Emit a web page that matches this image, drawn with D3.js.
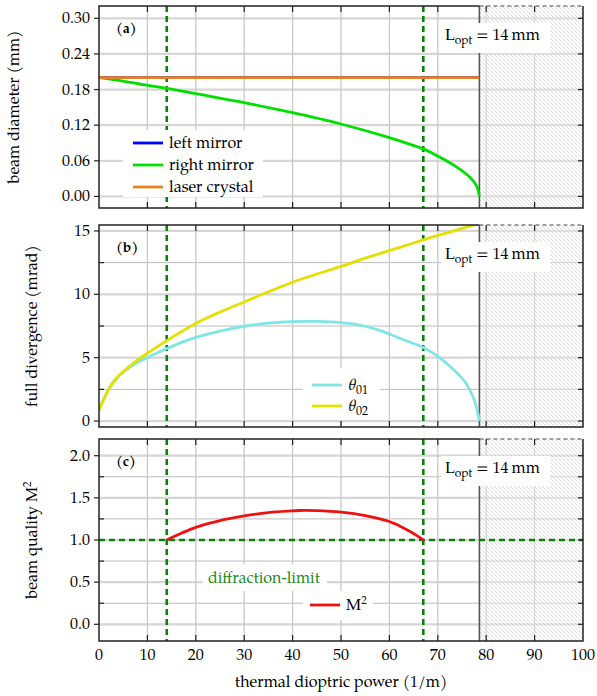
<!DOCTYPE html>
<html>
<head>
<meta charset="utf-8">
<script src="https://cdn.jsdelivr.net/npm/d3@7"></script>
<style>
  body { margin: 0; background: #fff; }
</style>
</head>
<body>
<script>
// ---- data ----
const powerTicks = [0, 10, 20, 30, 40, 50, 60, 70, 80, 90, 100];
const stabilityEdge = 78.6;          // end of stable range (1/m)
const markerPowers = [14, 67];       // green dashed lines

// (a) beam diameter (mm)
const mirrorX      = [0, 78.6];
const leftMirror   = [0.200, 0.200];
const laserCrystal = [0.200, 0.200];
const rightX      = [0, 5, 10, 14, 20, 30, 40, 50, 60, 67, 70, 74, 76, 77, 78, 78.6];
const rightMirror = [0.200, 0.194, 0.187, 0.182, 0.173, 0.158, 0.141, 0.122, 0.099, 0.080, 0.068, 0.049, 0.037, 0.029, 0.018, 0.0];

// (b) full divergence (mrad)
const theta01X = [0, 1.2, 2.2, 3.2, 5.3, 7.4, 10, 14, 20, 25, 30, 35, 40, 45, 50, 55, 58, 62, 67, 70, 73, 75.6, 77.3, 78.3, 78.6];
const theta01  = [0.85, 1.9, 2.62, 3.18, 3.95, 4.5, 5.0, 5.72, 6.6, 7.1, 7.48, 7.72, 7.85, 7.86, 7.76, 7.48, 7.15, 6.55, 5.8, 5.1, 4.15, 3.1, 1.9, 0.6, 0.0];
const theta02X = [0, 1.2, 2.2, 3.2, 5.3, 7.4, 10, 14, 20, 25, 30, 35, 40, 45, 50, 55, 60, 65, 70, 75, 78.6];
const theta02  = [0.85, 1.9, 2.64, 3.2, 4.0, 4.65, 5.35, 6.35, 7.7, 8.6, 9.4, 10.2, 10.95, 11.6, 12.2, 12.85, 13.45, 14.05, 14.65, 15.2, 15.6];

// (c) beam quality M²
const m2X = [14, 17, 20, 25, 30, 35, 40, 41.5, 45, 50, 55, 60, 62, 64, 66, 67];
const m2  = [1.0, 1.08, 1.15, 1.23, 1.285, 1.325, 1.345, 1.35, 1.348, 1.33, 1.29, 1.22, 1.17, 1.11, 1.04, 1.0];
const diffractionLimit = 1.0;

const ticksA = [0, 0.06, 0.12, 0.18, 0.24, 0.30];
const ticksB = [0, 5, 10, 15];
const minorB = [2.5, 7.5, 12.5];
const ticksC = [0, 0.5, 1.0, 1.5, 2.0];
const minorC = [0.25, 0.75, 1.25, 1.75];

// ---- layout ----
const W = 597, H = 696;
const left = 99, right = 583;
const FONT = '"TeX Gyre Pagella", "Liberation Serif", serif';
const svg = d3.select('body').append('svg').attr('width', W).attr('height', H)
  .style('font-family', FONT);

const x = d3.scaleLinear().domain([0, 100]).range([left, right]);
const zip = (xs, ys) => xs.map((v, i) => ({x: v, y: ys[i]}));

const defs = svg.append('defs');
const hatch = defs.append('pattern').attr('id', 'hatch')
  .attr('patternUnits', 'userSpaceOnUse').attr('width', 4).attr('height', 4);
hatch.append('path').attr('d', 'M-1,-1 L1,1 M0,0 L4,4 M3,3 L5,5')
  .attr('stroke', '#d0d0d0').attr('stroke-width', 0.6);

const green = '#0b800b';

function txt(sel) {
  return sel.style('font-family', FONT);
}

function drawPanel(p) {
  const y = d3.scaleLinear().domain(p.yDomain).range([p.bottom, p.top]);
  const g = svg.append('g');
  const clipId = 'clip-' + p.tag;
  defs.append('clipPath').attr('id', clipId).append('rect')
    .attr('x', left).attr('y', p.top).attr('width', right - left).attr('height', p.bottom - p.top);

  // grid
  g.selectAll('.gminor').data(p.minor || []).join('line')
    .attr('x1', left).attr('x2', right).attr('y1', d => y(d)).attr('y2', d => y(d))
    .attr('stroke', '#bcbcbc').attr('stroke-width', 1);
  g.selectAll('.gmajor').data(p.ticks).join('line')
    .attr('x1', left).attr('x2', right).attr('y1', d => y(d)).attr('y2', d => y(d))
    .attr('stroke', '#d6d6d6').attr('stroke-width', 2.2);
  g.selectAll('.gx').data(powerTicks.slice(1, -1)).join('line')
    .attr('x1', d => x(d)).attr('x2', d => x(d)).attr('y1', p.top).attr('y2', p.bottom)
    .attr('stroke', '#c8c8c8').attr('stroke-width', 1.3);

  // unstable region
  const xe = x(stabilityEdge);
  g.append('rect').attr('x', xe).attr('y', p.top)
    .attr('width', x(100) - xe).attr('height', p.bottom - p.top)
    .attr('fill', '#fff').attr('fill-opacity', 0.3);
  g.append('rect').attr('x', xe).attr('y', p.top)
    .attr('width', x(100) - xe).attr('height', p.bottom - p.top)
    .attr('fill', 'url(#hatch)');
  g.append('line').attr('x1', xe).attr('x2', xe)
    .attr('y1', p.top).attr('y2', p.bottom).attr('stroke', '#555').attr('stroke-width', 1.6);

  // green dashed markers
  g.selectAll('.mark').data(markerPowers).join('line')
    .attr('x1', d => x(d)).attr('x2', d => x(d)).attr('y1', p.top).attr('y2', p.bottom)
    .attr('stroke', green).attr('stroke-width', 2.6).attr('stroke-dasharray', '6,4');
  if (p.hline !== undefined) {
    g.append('line').attr('x1', left).attr('x2', right)
      .attr('y1', y(p.hline)).attr('y2', y(p.hline))
      .attr('stroke', green).attr('stroke-width', 2.6).attr('stroke-dasharray', '6,4');
  }

  // curves
  const line = d3.line().x(d => x(d.x)).y(d => y(d.y)).curve(d3.curveCatmullRom.alpha(0.5));
  const cg = g.append('g').attr('clip-path', `url(#${clipId})`);
  p.series.forEach(s => {
    cg.append('path').attr('d', line(s.values)).attr('fill', 'none')
      .attr('stroke', s.color).attr('stroke-width', 2.8);
  });

  // extra texts (diffraction-limit)
  (p.notes || []).forEach(n => {
    g.append('rect').attr('x', n.box[0]).attr('y', n.box[1]).attr('width', n.box[2]).attr('height', n.box[3]).attr('fill', '#fff');
    g.append('text').attr('x', n.x).attr('y', n.y).attr('fill', n.color)
      .style('font-size', '16px').call(txt).text(n.text);
  });

  // legend
  const lg = g.append('g');
  const lb = p.legendBox;
  lg.append('rect').attr('x', lb[0]).attr('y', lb[1]).attr('width', lb[2]).attr('height', lb[3]).attr('fill', '#fff');
  p.series.filter(s => s.label).forEach((s, i) => {
    const yy = p.legendY + i * p.legendStep;
    lg.append('line').attr('x1', p.legendX).attr('x2', p.legendX + 30).attr('y1', yy).attr('y2', yy)
      .attr('stroke', s.color).attr('stroke-width', 2.8);
    const t = lg.append('text').attr('x', p.legendX + 36).attr('y', yy + 5)
      .style('font-size', '16px').call(txt);
    s.label(t);
  });

  // L_opt box
  g.append('rect').attr('x', 441).attr('y', p.top + 17).attr('width', 109).attr('height', 30).attr('fill', '#fff');
  const lt = g.append('text').attr('x', 445).attr('y', p.top + 34).style('font-size', '16px').call(txt);
  lt.append('tspan').text('L');
  lt.append('tspan').attr('dy', 4).style('font-size', '12px').text('opt');
  lt.append('tspan').attr('dy', -4).text(' = 14\u2009mm');

  // panel tag
  g.append('text').attr('x', 116).attr('y', p.top + 27).style('font-size', '14px')
    .style('font-weight', 'bold').call(txt).text(`(${p.tag})`);

  // frame: solid except the top edge over the unstable region, which is dashed
  g.append('path')
    .attr('d', `M${xe},${p.top} H${left} V${p.bottom} H${right} V${p.top}`)
    .attr('fill', 'none').attr('stroke', '#222').attr('stroke-width', 1.5);
  g.append('line').attr('x1', xe).attr('x2', right).attr('y1', p.top).attr('y2', p.top)
    .attr('stroke', '#444').attr('stroke-width', 1.2).attr('stroke-dasharray', '4,3');

  // ticks: left outward, others inward
  const tk = g.append('g').attr('stroke', '#222').attr('stroke-width', 1.2);
  tk.selectAll('.tl').data(p.ticks).join('line')
    .attr('x1', left - 5).attr('x2', left).attr('y1', d => y(d)).attr('y2', d => y(d));
  tk.selectAll('.tlm').data(p.minor || []).join('line')
    .attr('x1', left).attr('x2', left + 5).attr('y1', d => y(d)).attr('y2', d => y(d));
  tk.selectAll('.tr').data(p.ticks.concat(p.minor || [])).join('line')
    .attr('x1', right - 5).attr('x2', right).attr('y1', d => y(d)).attr('y2', d => y(d));
  tk.selectAll('.tt').data(powerTicks.slice(1, -1)).join('line')
    .attr('x1', d => x(d)).attr('x2', d => x(d)).attr('y1', p.top).attr('y2', p.top + 6);
  tk.selectAll('.tb').data(powerTicks.slice(1, -1)).join('line')
    .attr('x1', d => x(d)).attr('x2', d => x(d)).attr('y1', p.bottom - 6).attr('y2', p.bottom);

  g.selectAll('.yl').data(p.ticks).join('text')
    .attr('x', left - 9).attr('y', d => y(d) + 5).attr('text-anchor', 'end')
    .style('font-size', '16px').call(txt).text(d => d3.format(p.fmt)(d));

  g.append('text')
    .attr('transform', `translate(${p.labelX},${(p.top + p.bottom) / 2}) rotate(-90)`)
    .attr('text-anchor', 'middle').style('font-size', '16px').call(txt)
    .call(p.ylabel);

  if (p.xLabels) {
    g.selectAll('.xl').data(powerTicks).join('text')
      .attr('x', d => x(d)).attr('y', p.bottom + 19).attr('text-anchor', 'middle')
      .style('font-size', '16px').call(txt).text(d => d);
  }
  return y;
}

drawPanel({
  tag: 'a', top: 6, bottom: 208, yDomain: [-0.0195, 0.3207],
  ticks: ticksA, fmt: '.2f', labelX: 19,
  ylabel: t => t.text('beam diameter (mm)'),
  series: [
    {values: zip(mirrorX, leftMirror), color: '#0000ff', label: t => t.text('left mirror')},
    {values: zip(rightX, rightMirror), color: '#00e000', label: t => t.text('right mirror')},
    {values: zip(mirrorX, laserCrystal), color: '#e8821e', label: t => t.text('laser crystal')}
  ],
  legendBox: [123, 130, 140, 67], legendX: 133, legendY: 143, legendStep: 22
});

drawPanel({
  tag: 'b', top: 225, bottom: 427, yDomain: [-0.47, 15.47],
  ticks: ticksB, minor: minorB, fmt: 'd', labelX: 37,
  ylabel: t => t.text('full divergence (mrad)'),
  series: [
    {values: zip(theta01X, theta01), color: '#7ee6e4', label: t => {
      t.append('tspan').style('font-style', 'italic').text('\u03b8');
      t.append('tspan').attr('dy', 4).style('font-size', '12px').text('01');
    }},
    {values: zip(theta02X, theta02), color: '#e4e000', label: t => {
      t.append('tspan').style('font-style', 'italic').text('\u03b8');
      t.append('tspan').attr('dy', 4).style('font-size', '12px').text('02');
    }}
  ],
  legendBox: [303, 368, 77, 52], legendX: 312, legendY: 385, legendStep: 21
});

drawPanel({
  tag: 'c', top: 439, bottom: 641, yDomain: [-0.198, 2.198],
  ticks: ticksC, minor: minorC, fmt: '.1f', labelX: 37, hline: diffractionLimit,
  ylabel: t => {
    t.append('tspan').text('beam quality M');
    t.append('tspan').attr('dy', -6).style('font-size', '11px').text('2');
  },
  series: [
    {values: zip(m2X, m2), color: '#ee1111', label: t => {
      t.append('tspan').text('M');
      t.append('tspan').attr('dy', -6).style('font-size', '11px').text('2');
    }}
  ],
  notes: [{text: 'diffraction-limit', x: 208, y: 583, color: '#1a8a1a', box: [203, 564, 124, 27]}],
  legendBox: [303, 591, 70, 29], legendX: 310, legendY: 605, legendStep: 22,
  xLabels: true
});

svg.append('text').attr('x', 341).attr('y', 687).attr('text-anchor', 'middle')
  .style('font-size', '16px').call(txt).text('thermal dioptric power (1/m)');
</script>
</body>
</html>
